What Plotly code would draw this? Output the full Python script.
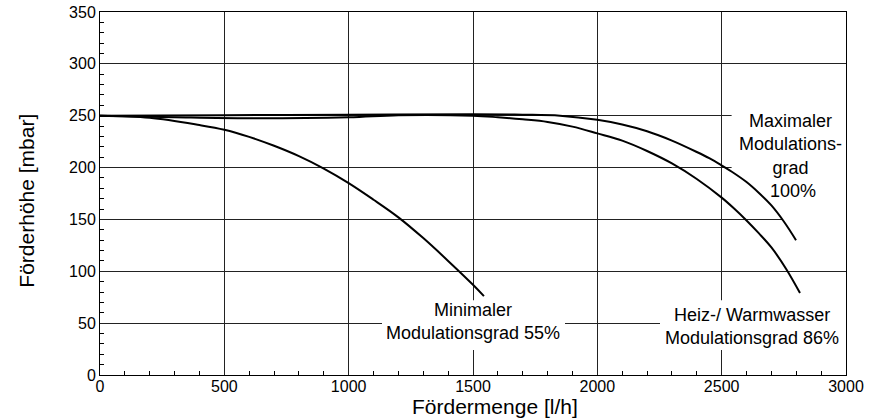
import plotly.graph_objects as go

# Förderkennlinien (Fördermenge l/h -> Förderhöhe mbar)
q_max = [0, 500, 1000, 1500, 1700, 1850, 2000, 2100, 2200, 2300, 2400, 2450, 2500, 2550, 2600, 2650, 2700, 2750, 2799]
h_max = [250, 250.5, 251, 251.5, 251, 250, 246, 241.5, 235, 226, 215, 209, 202, 194.5, 186, 175.5, 163.5, 148, 130]

q_86 = [0, 300, 600, 1000, 1200, 1500, 1600, 1700, 1800, 1900, 2000, 2100, 2200, 2300, 2400, 2500, 2550, 2600, 2650, 2700, 2760, 2815]
h_86 = [250, 248.5, 247.5, 248.5, 250.5, 250, 248.5, 246.5, 244, 239.5, 233, 226, 216, 204, 189, 171, 160.5, 149, 136.5, 123, 102, 79]

q_55 = [0, 200, 400, 500, 600, 700, 800, 900, 1000, 1100, 1200, 1300, 1400, 1500, 1544]
h_55 = [250, 248, 241, 236.5, 229.6, 221, 211, 199, 185, 169, 152, 132, 110, 87, 76]

FONT = "Liberation Sans, Arial, sans-serif"

fig = go.Figure()
for q, h in [(q_max, h_max), (q_86, h_86), (q_55, h_55)]:
    fig.add_trace(go.Scatter(x=q, y=h, mode="lines", line_shape="spline",
                             line=dict(color="black", width=2), showlegend=False))

# weisse Flaechen hinter den Beschriftungen (unterbrechen nur das Gitter)
boxes = [
    (1134, 1870, 24, 72),
    (2252, 3000, 24, 72),
    (2540, 3000, 165, 256),
    (2745, 3000, 140, 165),
]
for x0, x1, y0, y1 in boxes:
    fig.add_shape(type="rect", x0=x0, x1=x1, y0=y0, y1=y1, layer="between",
                  fillcolor="white", line_width=0)

labels = [
    (1500, 52, "Minimaler<br>Modulationsgrad 55%"),
    (2622, 47, "Heiz-/ Warmwasser<br>Modulationsgrad 86%"),
    (2775, 211, "Maximaler<br>Modulations-<br>grad<br> 100%"),
]
for x, y, t in labels:
    fig.add_annotation(x=x, y=y, text=t, showarrow=False,
                       font=dict(family=FONT, size=18, color="black"))

fig.add_annotation(x=0.5295, y=-0.0854, xref="paper", yref="paper",
                   xanchor="center", yanchor="middle",
                   text="Fördermenge [l/h]", showarrow=False,
                   font=dict(family=FONT, size=21, color="black"))
fig.add_annotation(x=-0.098, y=0.48, xref="paper", yref="paper", textangle=-90,
                   xanchor="center", yanchor="middle",
                   text="Förderhöhe [mbar]", showarrow=False,
                   font=dict(family=FONT, size=21, color="black"))

axis_common = dict(showline=True, linecolor="black", linewidth=1, mirror=True,
                   showgrid=True, gridcolor="#222", gridwidth=1, zeroline=False,
                   ticks="", tickfont=dict(family=FONT, size=16, color="black"))

fig.update_xaxes(range=[0, 3000], dtick=500, ticklabelstandoff=-3,
                 minor=dict(dtick=100, ticks="inside", ticklen=4, tickcolor="black", showgrid=False),
                 **axis_common)
fig.update_yaxes(range=[0, 350], dtick=50,
                 minor=dict(dtick=10, ticks="inside", ticklen=4, tickcolor="black", showgrid=False),
                 **axis_common)

fig.update_layout(width=883, height=420, plot_bgcolor="white", paper_bgcolor="white",
                  margin=dict(l=100, r=37, t=12, b=45, autoexpand=False), font=dict(family=FONT))

fig.write_html("out.html", config={"displayModeBar": False},
               post_script="document.body.style.margin='0px';")
